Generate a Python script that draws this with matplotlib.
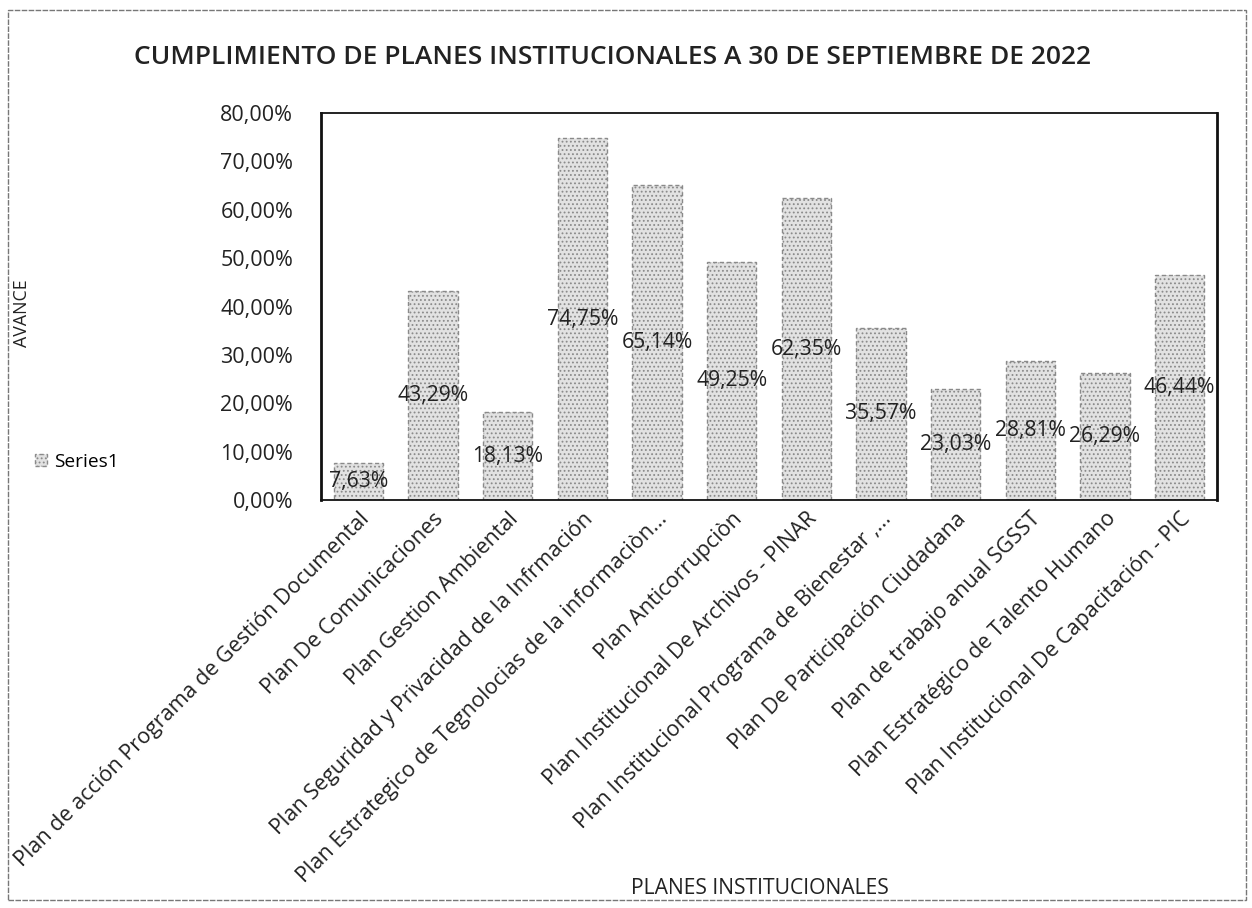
import matplotlib
matplotlib.use("Agg")
import matplotlib.pyplot as plt
from matplotlib.patches import Rectangle
from matplotlib.ticker import FuncFormatter

categories = [
    "Plan de acción Programa de Gestión Documental",
    "Plan De Comunicaciones",
    "Plan Gestion Ambiental",
    "Plan Seguridad y Privacidad de la Infrmación",
    "Plan Estrategico de Tegnolocias de la informaciòn...",
    "Plan Anticorrupciòn",
    "Plan Institucional De Archivos - PINAR",
    "Plan Institucional Programa de Bienestar ,...",
    "Plan De Participación Ciudadana",
    "Plan de trabajo anual SGSST",
    "Plan Estratégico de Talento Humano",
    "Plan Institucional De Capacitación - PIC",
]
values = [7.63, 43.29, 18.13, 74.75, 65.14, 49.25, 62.35, 35.57, 23.03, 28.81, 26.29, 46.44]
yticks = [0, 10, 20, 30, 40, 50, 60, 70, 80]

title = "CUMPLIMIENTO DE PLANES INSTITUCIONALES A 30 DE SEPTIEMBRE DE 2022"
xlabel = "PLANES INSTITUCIONALES"
ylabel = "AVANCE"
series_name = "Series1"

plt.rcParams['font.family'] = ['Open Sans', 'DejaVu Sans']
plt.rcParams['hatch.color'] = '#a0a0a0'
plt.rcParams['hatch.linewidth'] = 0.8

fig = plt.figure(figsize=(12.52, 9.08), dpi=100)
ax = fig.add_axes([321/1252, 1 - 500/908, (1217-321)/1252, (500-113)/908])

def pct(v, pos=None):
    return f"{v:.2f}".replace(".", ",") + "%"

x = list(range(len(categories)))
bars = ax.bar(x, values, width=0.66, facecolor='#e2e2e2', edgecolor='#8a8a8a',
              linestyle=(0, (3, 2)), linewidth=1.0, hatch='....', label=series_name)

for xi, v in zip(x, values):
    ax.text(xi, v / 2, pct(v), ha='center', va='center', fontsize=15.2, color='#222222')

ax.set_xlim(-0.5, len(categories) - 0.5)
ax.set_ylim(0, 80)
ax.set_yticks(yticks)
ax.yaxis.set_major_formatter(FuncFormatter(pct))
ax.tick_params(axis='y', length=0, labelsize=15.5, pad=20, colors='#222222')
ax.tick_params(axis='x', length=0, labelsize=15.5, pad=6, colors='#222222')
ax.set_xticks(x)
ax.set_xticklabels(categories, rotation=45, ha='right', rotation_mode='anchor')
for s in ax.spines.values():
    s.set_color('#111111')
    s.set_linewidth(1.3)
ax.spines['left'].set_linewidth(2.0)
ax.spines['right'].set_linewidth(2.0)

fig.text(613/1252, 1 - 57/908, title, ha='center', va='center', fontsize=19,
         fontweight='semibold', color='#222222')
fig.text(760/1252, 1 - 888/908, xlabel, ha='center', va='center', fontsize=15.2, color='#222222')
fig.text(22/1252, 1 - 313/908, ylabel, ha='center', va='center', rotation=90, fontsize=12.8, color='#222222')

leg = fig.legend(handles=[bars], labels=[series_name], loc='center left',
                 bbox_to_anchor=(18/1252, 1 - 462/908), frameon=False, fontsize=13.8,
                 handlelength=0.6, handleheight=0.6, handletextpad=0.4)

fig.patches.append(Rectangle((8/1252, 8/908), 1238/1252, 890/908, transform=fig.transFigure,
                             fill=False, edgecolor='#777777', linewidth=1.0, linestyle=(0, (4, 1))))

fig.savefig("out.png", dpi=100)
